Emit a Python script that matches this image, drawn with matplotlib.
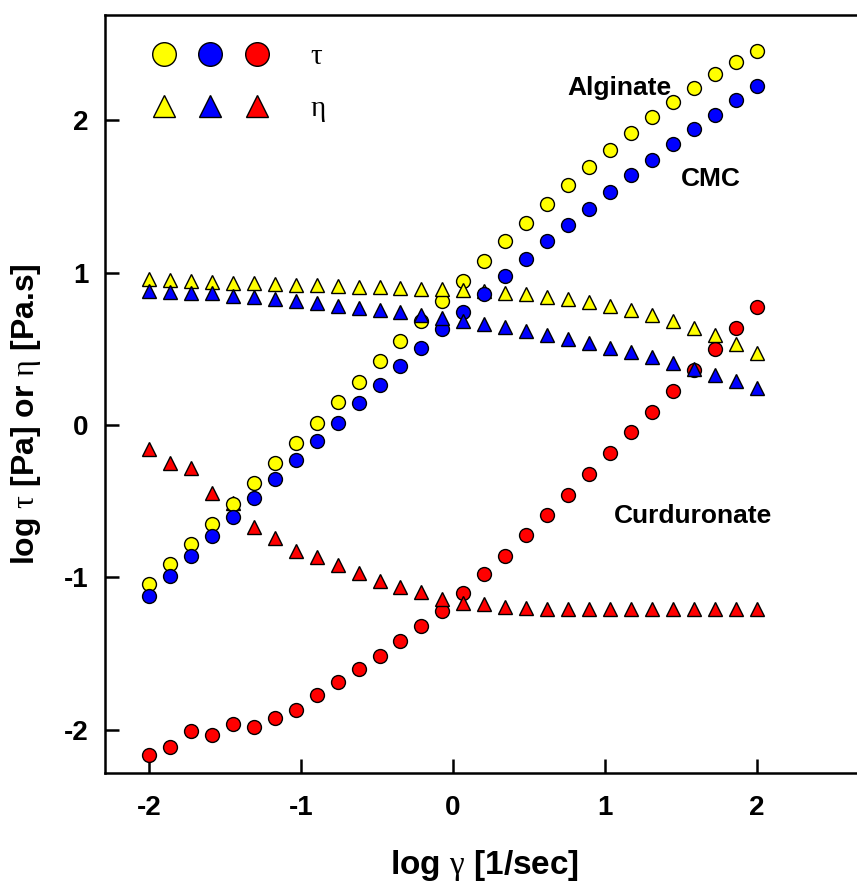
import matplotlib
matplotlib.use("Agg")
import matplotlib.pyplot as plt
from matplotlib.legend_handler import HandlerTuple

plt.rcParams['font.family'] = ['Liberation Sans', 'DejaVu Sans']
plt.rcParams['mathtext.fontset'] = 'custom'
plt.rcParams['mathtext.rm'] = 'Liberation Serif'

# log shear rate [1/sec]
log_rate = [-2.000, -1.862, -1.724, -1.586, -1.448, -1.310, -1.172, -1.034,
            -0.897, -0.759, -0.621, -0.483, -0.345, -0.207, -0.069, 0.069,
            0.207, 0.345, 0.483, 0.621, 0.759, 0.897, 1.034, 1.172,
            1.310, 1.448, 1.586, 1.724, 1.862, 2.000]

# log shear stress [Pa]
tau_alginate = [-1.046, -0.913, -0.781, -0.650, -0.521, -0.383, -0.252, -0.120,
                0.011, 0.149, 0.280, 0.418, 0.554, 0.683, 0.814, 0.948,
                1.077, 1.205, 1.328, 1.451, 1.574, 1.692, 1.804, 1.915,
                2.020, 2.119, 2.213, 2.303, 2.381, 2.458]
tau_cmc = [-1.123, -0.991, -0.860, -0.729, -0.606, -0.479, -0.352, -0.230,
           -0.107, 0.015, 0.142, 0.263, 0.385, 0.508, 0.628, 0.744,
           0.862, 0.978, 1.092, 1.205, 1.313, 1.420, 1.530, 1.640,
           1.740, 1.845, 1.944, 2.037, 2.134, 2.224]
tau_curduronate = [-2.165, -2.116, -2.009, -2.035, -1.963, -1.983, -1.926, -1.869,
                   -1.773, -1.687, -1.600, -1.515, -1.418, -1.318, -1.219, -1.105,
                   -0.980, -0.858, -0.720, -0.593, -0.457, -0.322, -0.186, -0.048,
                   0.087, 0.223, 0.361, 0.501, 0.637, 0.773]

# log viscosity [Pa.s]
eta_alginate = [0.957, 0.955, 0.948, 0.941, 0.934, 0.930, 0.926, 0.919,
                0.917, 0.913, 0.908, 0.904, 0.897, 0.895, 0.891, 0.884,
                0.882, 0.869, 0.858, 0.838, 0.825, 0.808, 0.781, 0.753,
                0.720, 0.683, 0.639, 0.589, 0.532, 0.471]
eta_cmc = [0.882, 0.875, 0.869, 0.865, 0.849, 0.838, 0.827, 0.812,
           0.799, 0.783, 0.770, 0.755, 0.740, 0.720, 0.703, 0.685,
           0.663, 0.641, 0.619, 0.591, 0.567, 0.536, 0.508, 0.481,
           0.444, 0.409, 0.370, 0.330, 0.287, 0.241]
eta_curduronate = [-0.160, -0.247, -0.280, -0.444, -0.515, -0.668, -0.744, -0.827,
                   -0.865, -0.919, -0.970, -1.024, -1.062, -1.099, -1.143, -1.167,
                   -1.177, -1.193, -1.200, -1.205, -1.207, -1.208, -1.209, -1.210,
                   -1.210, -1.210, -1.210, -1.210, -1.210, -1.210]

ticks = [-2, -1, 0, 1, 2]
tick_labels = ['-2', '-1', '0', '1', '2']

fig = plt.figure(figsize=(8.57, 8.86), dpi=100)
ax = fig.add_axes([105 / 857, 113 / 886, 752 / 857, 758 / 886])

mk = dict(linestyle='none', markeredgecolor='black', markeredgewidth=1.0)
circ = dict(marker='o', markersize=10, **mk)
tri = dict(marker='^', markersize=9.5, **mk)

# draw order sets which symbols sit on top where they overlap
rc, = ax.plot(log_rate, tau_curduronate, markerfacecolor='#ff0000', **circ)
rt, = ax.plot(log_rate, eta_curduronate, markerfacecolor='#ff0000', **tri)
yc, = ax.plot(log_rate, tau_alginate, markerfacecolor='#ffff00', **circ)
yt, = ax.plot(log_rate, eta_alginate, markerfacecolor='#ffff00', **tri)
bc, = ax.plot(log_rate, tau_cmc, markerfacecolor='#0000ff', **circ)
bt, = ax.plot(log_rate, eta_cmc, markerfacecolor='#0000ff', **tri)

ax.set_xlim(-2.29, 2.66)
ax.set_ylim(-2.285, 2.692)
ax.spines['right'].set_visible(False)
for s in ['left', 'bottom', 'top']:
    ax.spines[s].set_linewidth(1.8)

ax.set_xticks(ticks)
ax.set_xticklabels(tick_labels)
ax.set_yticks(ticks)
ax.set_yticklabels(tick_labels)
ax.tick_params(direction='in', length=10, width=1.8, labelsize=20)
ax.tick_params(axis='x', pad=16)
ax.tick_params(axis='y', pad=12)
for lab in ax.get_xticklabels() + ax.get_yticklabels():
    lab.set_fontweight('bold')

ax.set_xlabel(r'log $\mathrm{\gamma}$ [1/sec]', fontsize=24, fontweight='bold')
ax.set_ylabel(r'log $\mathrm{\tau}$ [Pa] or $\mathrm{\eta}$ [Pa.s]', fontsize=23,
              fontweight='bold')
ax.xaxis.set_label_coords(0.5047, -0.099)
ax.yaxis.set_label_coords(-0.0824, 0.474)

ax.text(1.096, 2.167, 'Alginate', ha='center', va='baseline', fontsize=19, fontweight='bold')
ax.text(1.697, 1.569, 'CMC', ha='center', va='baseline', fontsize=19, fontweight='bold')
ax.text(1.579, -0.643, 'Curduronate', ha='center', va='baseline', fontsize=19, fontweight='bold')

ax.legend([(yc, bc, rc), (yt, bt, rt)], [r'$\mathrm{\tau}$', r'$\mathrm{\eta}$'],
          handler_map={tuple: HandlerTuple(ndivide=None, pad=0)},
          loc='upper left', bbox_to_anchor=(0.048, 0.9645), frameon=False,
          borderpad=0, borderaxespad=0, fontsize=21, markerscale=1.7,
          handlelength=4.75, handletextpad=1.05, labelspacing=0.82)

fig.savefig('out.png', dpi=100)
